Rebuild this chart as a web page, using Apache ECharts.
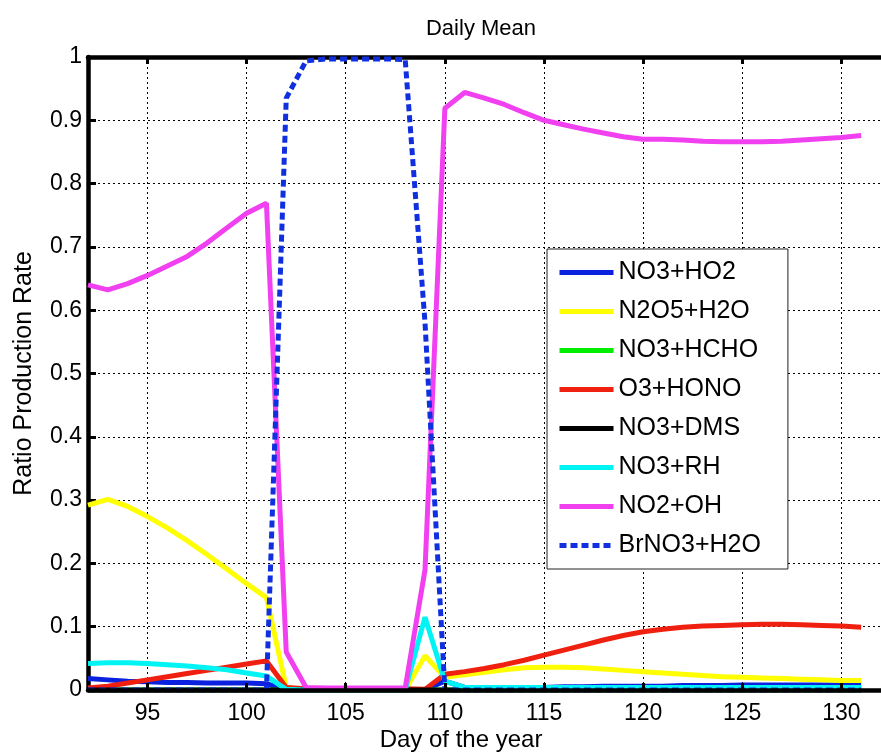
<!DOCTYPE html>
<html>
<head>
<meta charset="utf-8">
<script src="https://cdn.jsdelivr.net/npm/echarts@6/dist/echarts.min.js"></script>
<style>
html,body{margin:0;padding:0;background:#fff;}
#chart{width:881px;height:753px;}
</style>
</head>
<body>
<div id="chart"></div>
<script>
// ---- data (day of year, ratio values) ----
const days = [92,93,94,95,96,97,98,99,100,101,102,103,104,105,106,107,108,109,110,111,
              112,113,114,115,116,117,118,119,120,121,122,123,124,125,126,127,128,129,130,131];
const xTicks = [95,100,105,110,115,120,125,130];
const yTicks = [0,0.1,0.2,0.3,0.4,0.5,0.6,0.7,0.8,0.9,1];

const no3ho2  = [0.018,0.016,0.014,0.013,0.012,0.012,0.011,0.011,0.011,0.010,0.000,0,0,0,0,0,0,0.001,0.014,0.004,
                 0.004,0.004,0.004,0.004,0.005,0.005,0.006,0.006,0.006,0.006,0.007,0.007,0.007,0.008,0.008,0.008,0.008,0.008,0.008,0.008];
const n2o5h2o = [0.292,0.301,0.290,0.274,0.256,0.236,0.214,0.191,0.168,0.146,0.004,0,0,0,0,0,0,0.054,0.020,0.024,
                 0.028,0.032,0.035,0.036,0.036,0.035,0.033,0.031,0.029,0.027,0.025,0.023,0.021,0.020,0.019,0.018,0.017,0.016,0.015,0.015];
const no3hcho = [0,0,0,0,0,0,0,0,0,0,0,0,0,0,0,0,0,0,0,0,
                 0,0,0,0,0,0,0,0,0,0,0,0,0,0,0,0,0,0,0,0];
const o3hono  = [0.003,0.006,0.011,0.016,0.021,0.026,0.031,0.036,0.041,0.046,0.004,0.002,0.002,0.002,0.002,0.002,0.002,0.001,0.025,0.029,
                 0.034,0.040,0.047,0.055,0.063,0.071,0.079,0.086,0.092,0.096,0.099,0.101,0.102,0.103,0.104,0.104,0.103,0.102,0.101,0.099];
const no3dms  = [0,0,0,0,0,0,0,0,0,0,0,0,0,0,0,0,0,0,0,0,
                 0,0,0,0,0,0,0,0,0,0,0,0,0,0,0,0,0,0,0,0];
const no3rh   = [0.042,0.043,0.043,0.042,0.040,0.038,0.035,0.032,0.027,0.022,0.001,0,0,0,0,0,0,0.115,0.014,0.004,
                 0.004,0.004,0.004,0.004,0.004,0.004,0.004,0.004,0.004,0.004,0.004,0.004,0.004,0.004,0.004,0.004,0.004,0.004,0.004,0.004];
const no2oh   = [0.640,0.632,0.642,0.655,0.670,0.685,0.706,0.730,0.753,0.769,0.060,0.004,0.003,0.003,0.003,0.003,0.003,0.190,0.919,0.944,
                 0.935,0.925,0.912,0.900,0.893,0.886,0.880,0.874,0.870,0.870,0.869,0.867,0.866,0.866,0.866,0.867,0.869,0.871,0.873,0.876];
const brno3h2o= [0,0,0,0,0,0,0,0,0,0,0.935,0.994,0.997,0.997,0.997,0.997,0.996,0.580,0,0,
                 0,0,0,0,0,0,0,0,0,0,0,0,0,0,0,0,0,0,0,0];

const seriesNames = ['NO3+HO2','N2O5+H2O','NO3+HCHO','O3+HONO','NO3+DMS','NO3+RH','NO2+OH','BrNO3+H2O'];
const seriesData  = [no3ho2, n2o5h2o, no3hcho, o3hono, no3dms, no3rh, no2oh, brno3h2o];
const seriesColors= ['#0a22e0','#ffff00','#00ee00','#f02010','#000000','#00f4f4','#f040f0','#1030e0'];

const FONT = '"Liberation Sans", Arial, Helvetica, sans-serif';

const series = seriesNames.map((name, i) => ({
  name: name,
  type: 'line',
  symbol: 'none',
  showSymbol: false,
  animation: false,
  data: days.map((d, k) => [d, seriesData[i][k]]),
  lineStyle: {
    color: seriesColors[i],
    width: 5,
    type: i === 7 ? [7, 4] : 'solid'
  },
  itemStyle: { color: seriesColors[i] },
  z: 2
}));

const chart = echarts.init(document.getElementById('chart'), null, { renderer: 'canvas' });
chart.setOption({
  backgroundColor: '#ffffff',
  animation: false,
  grid: { left: 88, top: 57, width: 804, height: 633, containLabel: false },
  xAxis: [
    {
      type: 'value', position: 'bottom', min: 92, max: 132, z: 10,
      axisLine: { show: true, onZero: false, lineStyle: { color: '#000', width: 4.5 } },
      axisTick: { show: true, inside: true, length: 7, customValues: xTicks, lineStyle: { color: '#000', width: 3 } },
      axisLabel: { show: true, customValues: xTicks, margin: 12, color: '#000', fontSize: 23, fontFamily: FONT },
      splitLine: { show: false }
    },
    {
      type: 'value', position: 'top', min: 92, max: 132, z: 0,
      axisLine: { show: true, onZero: false, lineStyle: { color: '#000', width: 4.5 } },
      axisTick: { show: true, inside: true, length: 7, customValues: xTicks, lineStyle: { color: '#000', width: 3 } },
      axisLabel: { show: false },
      splitLine: { show: true, lineStyle: { color: '#000', width: 1, type: [2, 3] } }
    }
  ],
  yAxis: [
    {
      type: 'value', min: 0, max: 1, interval: 0.1, z: 0,
      name: 'Ratio Production Rate', nameLocation: 'middle', nameGap: 51, nameRotate: 90,
      nameTextStyle: { color: '#000', fontSize: 25, fontFamily: FONT },
      axisLine: { show: true, onZero: false, lineStyle: { color: '#000', width: 4.5 } },
      axisTick: { show: true, inside: true, length: 8, lineStyle: { color: '#000', width: 3 } },
      axisLabel: {
        show: true, margin: 6, color: '#000', fontSize: 23, fontFamily: FONT,
        formatter: v => (v === 0 ? '0' : (Math.abs(v - 1) < 1e-9 ? '1' : v.toFixed(1)))
      },
      splitLine: { show: true, lineStyle: { color: '#000', width: 1, type: [2, 3] } }
    }
  ],
  legend: {
    orient: 'vertical',
    left: 547, top: 249,
    data: seriesNames,
    itemWidth: 54, itemHeight: 14, itemGap: 14,
    padding: [11, 27, 11, 10],
    backgroundColor: '#ffffff',
    borderColor: '#222',
    borderWidth: 1,
    borderRadius: 0,
    itemStyle: { opacity: 0 },
    lineStyle: { width: 5 },
    textStyle: { color: '#000', fontSize: 25, lineHeight: 25, fontFamily: FONT },
    selectedMode: false,
    z: 20
  },
  graphic: [
    { type: 'text', x: 481, y: 29, z: 30,
      style: { text: 'Daily Mean', fill: '#000', font: '22px ' + FONT, align: 'center', verticalAlign: 'middle' } },
    { type: 'text', x: 461, y: 740, z: 30,
      style: { text: 'Day of the year', fill: '#000', font: '24px ' + FONT, align: 'center', verticalAlign: 'middle' } }
  ],
  series: series
});
</script>
</body>
</html>
